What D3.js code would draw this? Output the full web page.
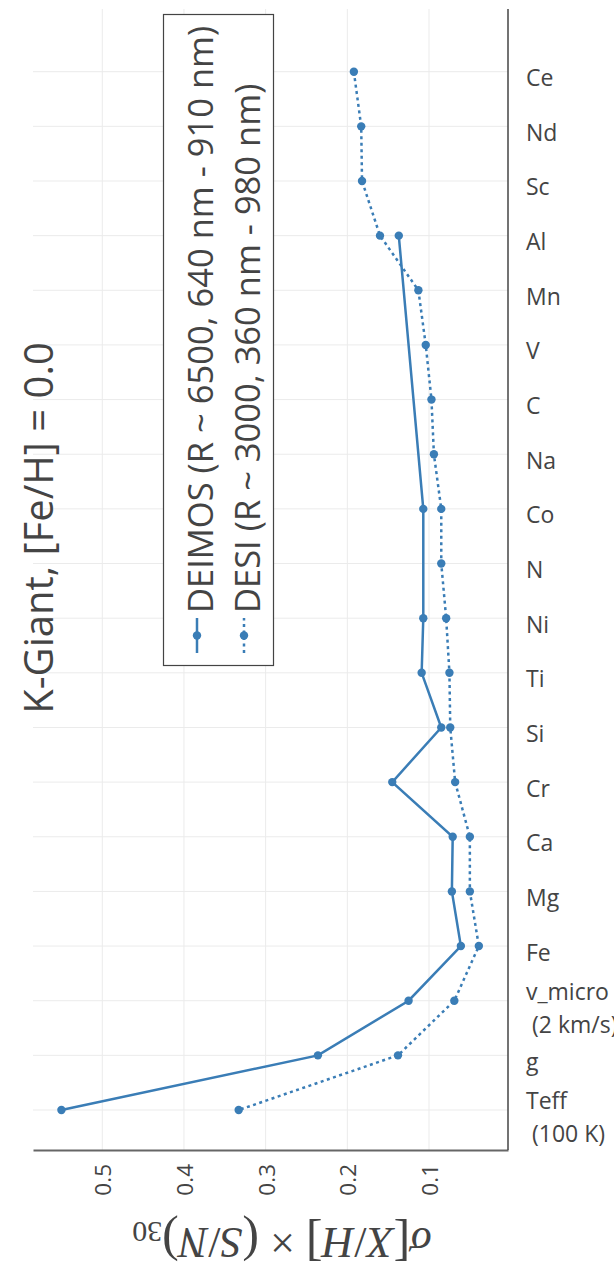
<!DOCTYPE html>
<html>
<head>
<meta charset="utf-8">
<script src="https://cdn.jsdelivr.net/npm/d3@7"></script>
<style>
  html, body { margin: 0; padding: 0; background: #fff; }
  svg { display: block; }
  text { font-family: "Open Sans", "DejaVu Sans", sans-serif; fill: #444; }
</style>
</head>
<body>
<svg id="chart" width="614" height="1268"></svg>
<script>
// Abundance / label precision per element, scaled to S/N = 30
const categories = ["Ce", "Nd", "Sc", "Al", "Mn", "V", "C", "Na", "Co", "N", "Ni", "Ti",
                    "Si", "Cr", "Ca", "Mg", "Fe", "v_micro", "g", "Teff"];
const categoryLabels = [["Ce"], ["Nd"], ["Sc"], ["Al"], ["Mn"], ["V"], ["C"], ["Na"], ["Co"],
                        ["N"], ["Ni"], ["Ti"], ["Si"], ["Cr"], ["Ca"], ["Mg"], ["Fe"],
                        ["v_micro", " (2 km/s)"], ["g"], ["Teff", " (100 K)"]];
const deimos = [null, null, null, 0.137, null, null, null, null, 0.107, null, 0.107, 0.109,
                0.085, 0.145, 0.071, 0.072, 0.061, 0.125, 0.236, 0.550];
const desi   = [0.192, 0.183, 0.182, 0.160, 0.113, 0.104, 0.097, 0.094, 0.085, 0.085, 0.079, 0.075,
                0.074, 0.068, 0.050, 0.050, 0.039, 0.069, 0.138, 0.333];
const xTicks = [0.5, 0.4, 0.3, 0.2, 0.1];
const seriesNames = ["DEIMOS (R ~ 6500, 640 nm - 910 nm)", "DESI (R ~ 3000, 360 nm - 980 nm)"];
const title = "K-Giant, [Fe/H] = 0.0";

const color = "#3a7db6";
const plot = { left: 33, right: 508, top: 9, bottom: 1150 };

const svg = d3.select("#chart");

const x = d3.scaleLinear().domain([0.5848, 0.0033]).range([plot.left, plot.right]);
const y = d3.scalePoint().domain(categories).range([71.7, 1110]);

// grid
const grid = svg.append("g");
grid.selectAll("line.v").data(xTicks).join("line")
  .attr("x1", d => x(d)).attr("x2", d => x(d))
  .attr("y1", plot.top).attr("y2", plot.bottom)
  .attr("stroke", "#ebebeb").attr("stroke-width", 1);
grid.selectAll("line.h").data(categories).join("line")
  .attr("x1", plot.left).attr("x2", plot.right)
  .attr("y1", d => y(d)).attr("y2", d => y(d))
  .attr("stroke", "#ebebeb").attr("stroke-width", 1);

// axes
const xAxis = svg.append("g")
  .attr("transform", `translate(0,${plot.bottom})`)
  .call(d3.axisBottom(x).tickValues(xTicks).tickSize(0).tickFormat(d3.format(".1f")));
xAxis.select(".domain").attr("stroke", "#666").attr("stroke-width", 2);
xAxis.selectAll(".tick text")
  .attr("y", 0).attr("x", 0).attr("dy", null)
  .attr("transform", "translate(0,14) rotate(-90)")
  .attr("text-anchor", "end").attr("dominant-baseline", "central")
  .style("font-size", "22.5px").attr("fill", "#444")
  .style("font-family", "'Open Sans', sans-serif");

const yAxis = svg.append("g")
  .attr("transform", `translate(${plot.right},0)`)
  .call(d3.axisRight(y).tickSize(0).tickFormat(""));
yAxis.select(".domain").remove();
yAxis.append("line").attr("x1", 0).attr("x2", 0)
  .attr("y1", plot.top).attr("y2", plot.bottom)
  .attr("stroke", "#444").attr("stroke-width", 1.5);
yAxis.selectAll(".tick").each(function(d, i) {
  const lines = categoryLabels[i];
  const t = d3.select(this).append("text")
    .attr("x", 18).attr("fill", "#444")
    .style("font-size", "23px")
    .style("font-family", "'Open Sans', sans-serif")
    .attr("text-anchor", "start")
    .attr("xml:space", "preserve");
  const lh = 33;
  const y0 = lines.length === 1 ? 5 : 6 - lh / 2;
  lines.forEach((s, k) => {
    t.append("tspan").attr("x", 18).attr("y", y0 + k * lh)
      .attr("dominant-baseline", "central").text(s);
  });
});

// series
const series = [
  { name: seriesNames[0], values: deimos, dash: null },
  { name: seriesNames[1], values: desi, dash: "3,3.5" }
];
const line = d3.line().x(d => x(d.v)).y(d => y(d.c));
series.forEach(s => {
  const pts = categories.map((c, i) => ({ c, v: s.values[i] })).filter(d => d.v !== null);
  svg.append("path").datum(pts)
    .attr("d", line).attr("fill", "none")
    .attr("stroke", color).attr("stroke-width", 2.5)
    .attr("stroke-dasharray", s.dash);
  svg.append("g").selectAll("circle").data(pts).join("circle")
    .attr("cx", d => x(d.v)).attr("cy", d => y(d.c)).attr("r", 4.2)
    .attr("fill", color);
});

// legend
const lg = svg.append("g");
lg.append("rect").attr("x", 163.5).attr("y", 14.5).attr("width", 110).attr("height", 651)
  .attr("fill", "#fff").attr("stroke", "#444").attr("stroke-width", 1.2);
const legendX = [197, 244];
series.forEach((s, i) => {
  const lx = legendX[i];
  lg.append("line").attr("x1", lx).attr("x2", lx).attr("y1", 653).attr("y2", 618)
    .attr("stroke", color).attr("stroke-width", 2.5).attr("stroke-dasharray", s.dash);
  lg.append("circle").attr("cx", lx).attr("cy", 635.5).attr("r", 4.2).attr("fill", color);
  lg.append("text")
    .attr("transform", `translate(${lx + 2},613) rotate(-90)`)
    .attr("text-anchor", "start").attr("dominant-baseline", "central")
    .style("font-size", "34.5px").attr("fill", "#444")
    .text(s.name);
});

// title
svg.append("text")
  .attr("transform", "translate(37,528) rotate(-90)")
  .attr("text-anchor", "middle").attr("dominant-baseline", "central")
  .style("font-size", "40px").attr("fill", "#444")
  .text(title);

// x-axis title: σ[X/H] × (S/N)30, drawn upside down
const at = svg.append("text")
  .attr("transform", "translate(282,1243) rotate(180)")
  .attr("text-anchor", "middle").attr("dominant-baseline", "central")
  .style("font-family", "'Liberation Serif', 'DejaVu Serif', serif")
  .style("font-size", "44px").attr("fill", "#333");
const parts = [
  ["σ", true, 44], ["[", false, 50], ["X", true, 44], ["/", false, 44], ["H", true, 44], ["]", false, 50],
  [" × ", false, 44], ["(", false, 50], ["S", true, 44], ["/", false, 44], ["N", true, 44], [")", false, 50]
];
parts.forEach(([s, it, fs]) => {
  at.append("tspan").style("font-style", it ? "italic" : "normal")
    .style("font-size", fs + "px").text(s);
});
at.append("tspan").attr("dy", 10).style("font-size", "30px").text("30");
</script>
</body>
</html>
